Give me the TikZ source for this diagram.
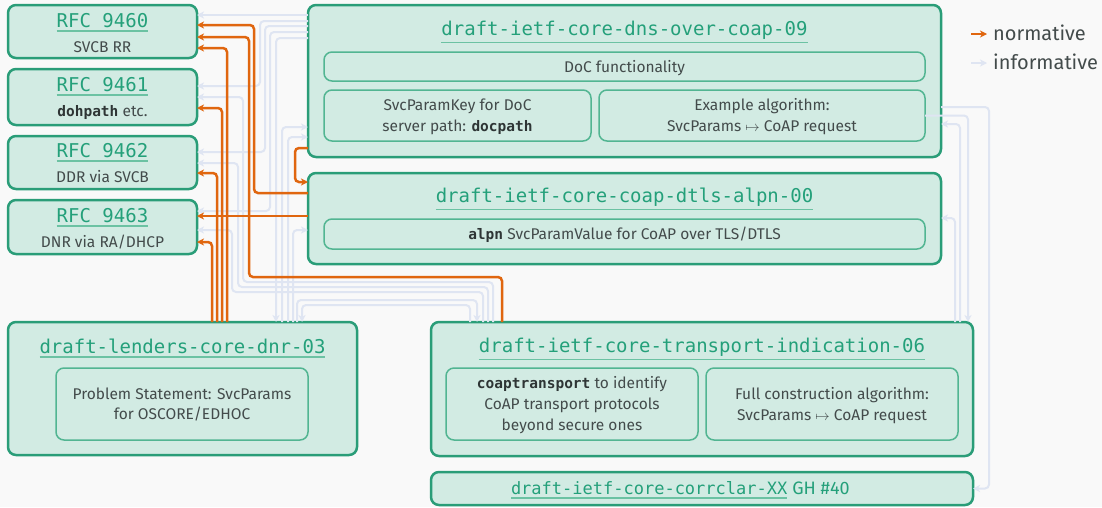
\documentclass[tikz,border=0pt]{standalone}
\usepackage{fontspec}
\setmainfont{Fira Sans}
\newfontfamily\dvmono{DejaVu Sans Mono}
\usetikzlibrary{calc,arrows.meta}
\definecolor{bgc}{HTML}{F9F9F9}
\definecolor{boxfill}{HTML}{D2EBE3}
\definecolor{boxc}{HTML}{2A9D78}
\definecolor{inc}{HTML}{52B592}
\definecolor{titc}{HTML}{24A07A}
\definecolor{ulc}{HTML}{6CC2A3}
\definecolor{bodyc}{HTML}{434B4B}
\definecolor{codec}{HTML}{2E3535}
\definecolor{orc}{HTML}{E0660F}
\definecolor{infc}{HTML}{DFE5F2}
\newcommand\rtitle{\dvmono\fontsize{19}{22}\selectfont}
\newcommand\rbody{\fontsize{15.5}{18}\selectfont}
\newcommand\rmono[1]{{\dvmono\bfseries\fontsize{14.5}{17}\selectfont\color{codec}#1}}
\newcommand\rleg{\fontsize{20}{24}\selectfont}
\begin{document}
\begin{tikzpicture}[x=1pt,y=-1pt,
  box/.style={draw=boxc, fill=boxfill, line width=2.5pt, rounded corners=8pt, inner sep=0pt, outer sep=0pt},
  inbox/.style={draw=inc, fill=boxfill, line width=1.5pt, rounded corners=8pt, inner sep=0pt, outer sep=0pt},
  ttl/.style={inner sep=0pt, outer sep=0pt, anchor=base, font=\rtitle, text=titc},
  txt/.style={inner sep=0pt, outer sep=0pt, anchor=base, font=\rbody, text=bodyc},
  ul/.style={draw=ulc, line width=1.5pt},
  norm/.style={draw=orc, line width=2.5pt, rounded corners=4pt, -{Stealth[length=7pt,width=7pt,inset=2pt]}},
  info/.style={draw=infc, line width=2pt, rounded corners=4pt, -{Stealth[length=7pt,width=7pt,inset=2pt]}}]
\fill[bgc] (0,0) rectangle (1102,507);
\useasboundingbox (0,0) rectangle (1102,507);

% ---------- boxes ----------
\node[box, minimum width=189pt, minimum height=53pt] (r9460) at (102.5,31.5) {};
\node[box, minimum width=189pt, minimum height=56pt] (r9461) at (102.5,97) {};
\node[box, minimum width=189pt, minimum height=53pt] (r9462) at (102.5,162.5) {};
\node[box, minimum width=189pt, minimum height=54pt] (r9463) at (102.5,227) {};

\node[box, minimum width=633pt, minimum height=152pt] (doc) at (624.5,81) {};
\node[inbox, minimum width=601pt, minimum height=29pt] (docf) at (624.5,66.5) {};
\node[inbox, minimum width=267pt, minimum height=51pt] (docsk) at (457.5,115.5) {};
\node[inbox, minimum width=326pt, minimum height=51pt] (docex) at (762,115.5) {};

\node[box, minimum width=633pt, minimum height=91pt] (dtls) at (624.5,218.5) {};
\node[inbox, minimum width=601pt, minimum height=30pt] (dtlsin) at (624.5,234) {};

\node[box, minimum width=349pt, minimum height=133pt] (dnr) at (182.5,388.5) {};
\node[inbox, minimum width=252pt, minimum height=72pt] (dnrin) at (182,404) {};

\node[box, minimum width=542pt, minimum height=134pt] (ti) at (702,389) {};
\node[inbox, minimum width=252pt, minimum height=72pt] (tia) at (572,404) {};
\node[inbox, minimum width=252pt, minimum height=72pt] (tib) at (832,404) {};

\node[box, minimum width=542pt, minimum height=33pt] (cc) at (702,488.5) {};

% ---------- texts ----------
\node[ttl] (t9460) at (102.5,27) {RFC 9460};
\node[txt] (b9460) at (102.5,52) {SVCB RR};
\node[ttl] (t9461) at (102.5,91) {RFC 9461};
\node[txt] (b9461) at (102.5,116) {\rmono{dohpath} etc.};
\node[ttl] (t9462) at (102.5,157) {RFC 9462};
\node[txt] (b9462) at (102.5,182) {DDR via SVCB};
\node[ttl] (t9463) at (102.5,222) {RFC 9463};
\node[txt] (b9463) at (102.5,247) {DNR via RA/DHCP};

\node[ttl] (tdoc) at (624.5,35) {draft-ietf-core-dns-over-coap-09};
\node[txt] (bdocf) at (624.5,72) {DoC functionality};
\node[txt] (bdsk1) at (457.5,110) {SvcParamKey for DoC};
\node[txt] (bdsk2) at (457.5,131) {server path: \rmono{docpath}};
\node[txt] (bdex1) at (762,110) {Example algorithm:};
\node[txt] (bdex2) at (762,131) {SvcParams $\mapsto$ CoAP request};

\node[ttl] (tdtls) at (624.5,202) {draft-ietf-core-coap-dtls-alpn-00};
\node[txt] (bdtls) at (624.5,239) {\rmono{alpn} SvcParamValue for CoAP over TLS/DTLS};

\node[ttl] (tdnr) at (182.5,353) {draft-lenders-core-dnr-03};
\node[txt] (bdnr1) at (182,399) {Problem Statement: SvcParams};
\node[txt] (bdnr2) at (182,419) {for OSCORE/EDHOC};

\node[ttl] (tti) at (702,352) {draft-ietf-core-transport-indication-06};
\node[txt] (btia1) at (572,388) {\rmono{coaptransport} to identify};
\node[txt] (btia2) at (572,409) {CoAP transport protocols};
\node[txt] (btia3) at (572,430) {beyond secure ones};
\node[txt] (btib1) at (832,399) {Full construction algorithm:};
\node[txt] (btib2) at (832,420) {SvcParams $\mapsto$ CoAP request};

\node[ttl, anchor=base west, font=\dvmono\fontsize{17}{20}\selectfont] (tcc) at (511,494) {draft-ietf-core-corrclar-XX};
\node[inner sep=0pt, outer sep=0pt, anchor=base west, font=\fontsize{18}{21}\selectfont, text=titc] (tgh) at ([xshift=5pt]tcc.base east) {GH \#40};

\foreach \t in {t9460,t9461,t9462,t9463,tdoc,tdtls,tdnr,tti,tcc}
  \draw[ul] ([yshift=-3.5pt]\t.south west) -- ([yshift=-3.5pt]\t.south east);

% ---------- legend ----------
\coordinate (lgn1) at (971,34);
\coordinate (lgn2) at (987,34);
\coordinate (lgi1) at (971,63);
\coordinate (lgi2) at (987,63);
\draw[norm] (lgn1) -- (lgn2);
\draw[info] (lgi1) -- (lgi2);
\node[inner sep=0pt, anchor=base west, font=\rleg, text=bodyc] (lgnt) at (993,40) {normative};
\node[inner sep=0pt, anchor=base west, font=\rleg, text=bodyc] (lgit) at (993,69) {informative};

% ---------- informative connectors ----------
\draw[info] ($(doc.north west)+(0,10)$) -- ($(r9460.north east)+(0,10)$);
\draw[info] ($(doc.north west)+(0,16)$) -| ($(r9461.north east)+(63,17)$) -- ($(r9461.north east)+(0,17)$);
\draw[info] ($(doc.north west)+(0,21)$) -| ($(r9462.north east)+(68,16)$) -- ($(r9462.north east)+(0,16)$);
\draw[info] ($(doc.north west)+(0,27)$) -| ($(r9463.north east)+(73,11)$) -- ($(r9463.north east)+(0,11)$);
\draw[info] ($(doc.north west)+(0,33)$) -| ($(dnr.north west)+(268,0)$);

\draw[info] ($(dnr.north west)+(274,0)$) |- ($(doc.north west)+(0,122)$);
\draw[info] ($(dnr.north west)+(280,0)$) |- ($(doc.north west)+(0,132)$);
\draw[info] ($(dnr.north west)+(285,0)$) |- ($(dtls.north west)+(0,57)$);

\draw[info] ($(ti.north west)+(39,0)$) |- ($(dnr.north west)+(294,-17)$) -- ($(dnr.north west)+(294,0)$);
\draw[info] ($(dnr.north west)+(289,0)$) |- ($(ti.north west)+(46,-22)$) -- ($(ti.north west)+(46,0)$);

\draw[info] ($(ti.north west)+(52,0)$) |- ($(r9463.north east)+(35,92)$) |- ($(r9463.north east)+(0,30)$);
\draw[info] ($(ti.north west)+(57,0)$) |- ($(r9462.north east)+(41,151)$) |- ($(r9462.north east)+(0,27)$);
\draw[info] ($(ti.north west)+(62,0)$) |- ($(r9461.north east)+(46,213)$) |- ($(r9461.north east)+(0,28)$);

\draw[info] ($(doc.north east)+(0,102)$) -| ($(cc.east)+(16,0)$) -- (cc.east);
\draw[info] (docex.east) -| ($(ti.north east)+(-5,0)$);
\draw[info] ($(ti.north east)+(-13,0)$) |- ($(doc.north east)+(0,119)$);
\draw[info] ($(ti.north east)+(-18,0)$) |- ($(dtls.north east)+(0,45)$);

% ---------- normative connectors ----------
\draw[norm] ($(dtls.north west)+(0,20)$) -| ($(r9460.north east)+(57,20)$) -- ($(r9460.north east)+(0,20)$);
\draw[norm] ($(ti.north west)+(71,0)$) |- ($(r9460.north east)+(52,272)$) |- ($(r9460.north east)+(0,32)$);
\draw[norm] ($(dnr.north west)+(219,0)$) |- ($(r9460.north east)+(0,43)$);
\draw[norm] ($(dnr.north west)+(214,0)$) |- ($(r9461.north east)+(0,39)$);
\draw[norm] ($(dnr.north west)+(209,0)$) |- ($(r9462.north east)+(0,37)$);
\draw[norm] ($(dnr.north west)+(204,0)$) |- ($(r9463.north east)+(0,42)$);
\draw[norm] ($(dtls.north west)+(0,43)$) -- ($(r9463.north east)+(0,16)$);
\draw[norm] ($(doc.north west)+(0,143)$) -- ++(-13,0) |- ($(dtls.north west)+(0,9)$);
\end{tikzpicture}
\end{document}
